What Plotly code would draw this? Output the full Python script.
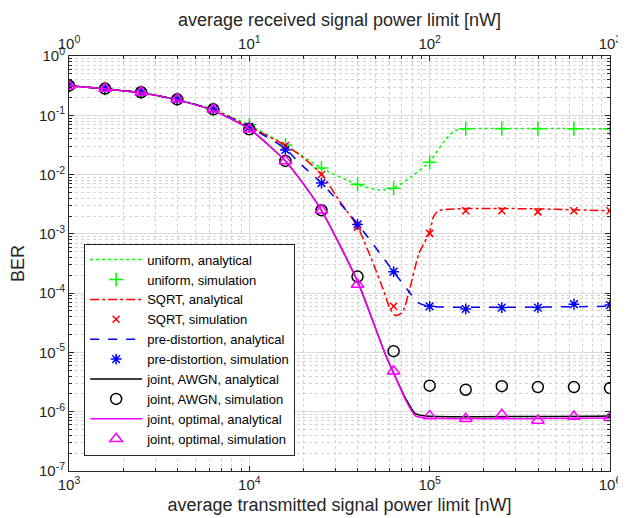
import plotly.graph_objects as go

# simulation points (transmitted power, nW)
x_sim = [1000, 1585, 2512, 3981, 6310, 10000, 15849, 25119, 39811, 63096,
         100000, 158489, 251189, 398107, 630957, 1000000]

uni_sim   = [0.316, 0.282, 0.245, 0.186, 0.126, 0.069, 0.0316, 0.0129, 0.0068, 0.0059,
             0.0162, 0.059, 0.059, 0.059, 0.059, 0.059]
sqrt_sim  = [0.316, 0.282, 0.245, 0.186, 0.126, 0.065, 0.031, 0.010, 0.0013, 6.0e-5,
             1.02e-3, 2.45e-3, 2.45e-3, 2.35e-3, 2.45e-3, 2.45e-3]
pre_sim   = [0.316, 0.282, 0.245, 0.186, 0.126, 0.063, 0.026, 0.0072, 0.00144, 2.3e-4,
             6.0e-5, 5.4e-5, 5.7e-5, 5.7e-5, 6.5e-5, 6.3e-5]
awgn_sim  = [0.316, 0.282, 0.245, 0.186, 0.126, 0.058, 0.017, 0.0025, 1.9e-4, 1.05e-5,
             2.75e-6, 2.35e-6, 2.7e-6, 2.6e-6, 2.6e-6, 2.5e-6]
opt_sim   = [0.316, 0.282, 0.245, 0.186, 0.126, 0.058, 0.017, 0.0025, 1.4e-4, 4.8e-6,
             8.5e-7, 7.6e-7, 8.9e-7, 7.1e-7, 8.3e-7, 7.9e-7]

# received power = transmitted / 1000 (top axis)
x_rx = [v / 1000 for v in x_sim]

# analytical curves
uni_x = [1000, 1585, 2512, 3981, 6310, 10000, 15849, 25119, 39811, 52481, 63096,
         79433, 100000, 123027, 138038, 158489, 1000000]
uni_y = [0.316, 0.282, 0.245, 0.186, 0.126, 0.0676, 0.0316, 0.0129, 0.00676, 0.0055, 0.0059,
         0.0093, 0.0166, 0.0398, 0.055, 0.0589, 0.0589]

sqrt_x = [1000, 1585, 2512, 3981, 6310, 10000, 15849, 18880, 25119, 31405, 39811, 48978,
          55719, 60256, 64565, 70795, 77625, 87096, 100000, 104713, 112202, 1000000]
sqrt_y = [0.316, 0.279, 0.240, 0.182, 0.123, 0.0646, 0.0309, 0.0219, 0.0102, 0.0037, 0.00132,
          3.0e-4, 1.07e-4, 5.5e-5, 4.2e-5, 4.8e-5, 1.2e-4, 4.6e-4, 1.07e-3, 1.9e-3, 2.45e-3, 2.45e-3]

pre_x = [1000, 1585, 2512, 3981, 6310, 10000, 15849, 18880, 25119, 39811, 63096, 79433,
         87096, 100000, 1000000]
pre_y = [0.316, 0.279, 0.240, 0.182, 0.123, 0.0631, 0.0275, 0.0158, 0.0072, 0.00148, 2.3e-4,
         9.3e-5, 6.8e-5, 6.0e-5, 6.0e-5]

joint_x = [1000, 1585, 2512, 3981, 6310, 10000, 15849, 18880, 25119, 39811, 56234, 63096,
           74131, 83176, 95499, 1000000]
awgn_y  = [0.316, 0.279, 0.240, 0.182, 0.120, 0.0589, 0.017, 0.0087, 0.0025, 1.58e-4, 1.0e-5,
           4.5e-6, 1.6e-6, 9.3e-7, 8.5e-7, 8.5e-7]
opt_y   = [0.316, 0.279, 0.240, 0.182, 0.120, 0.0589, 0.017, 0.0087, 0.0025, 1.58e-4, 1.0e-5,
           4.5e-6, 1.5e-6, 8.5e-7, 7.8e-7, 7.8e-7]

GREEN, RED, BLUE, BLACK, MAG = "#00ff00", "#ff0000", "#0000ff", "#000000", "#ff00ff"

fig = go.Figure()

def line(x, y, name, color, dash):
    fig.add_trace(go.Scatter(x=x, y=y, mode="lines", name=name,
                             line=dict(color=color, dash=dash, width=1.5,
                                       shape="spline", smoothing=0.6)))

def pts(x, y, name, color, symbol, size, xaxis="x"):
    fig.add_trace(go.Scatter(x=x, y=y, mode="markers", name=name, xaxis=xaxis,
                             marker=dict(color=color, symbol=symbol, size=size,
                                         line=dict(color=color, width=1.5))))

line(uni_x, uni_y, "uniform, analytical", GREEN, "dot")
pts(x_sim, uni_sim, "uniform, simulation", GREEN, "cross-thin-open", 10)
line(sqrt_x, sqrt_y, "SQRT, analytical", RED, "dashdot")
pts(x_sim, sqrt_sim, "SQRT, simulation", RED, "x-thin-open", 7)
line(pre_x, pre_y, "pre-distortion, analytical", BLUE, "dash")
pts(x_sim, pre_sim, "pre-distortion, simulation", BLUE, "asterisk-open", 9)
line(joint_x, awgn_y, "joint, AWGN, analytical", BLACK, "solid")
pts(x_sim, awgn_sim, "joint, AWGN, simulation", BLACK, "circle-open", 11)
line(joint_x, opt_y, "joint, optimal, analytical", MAG, "solid")
pts(x_rx, opt_sim, "joint, optimal, simulation", MAG, "triangle-up-open", 11, xaxis="x2")

def minor_vals(lo, hi):
    return [m * 10 ** e for e in range(lo, hi) for m in range(2, 10)]

grid_major = "#dcdcdc"
grid_minor = "#d4d4d4"
ink = "#262626"

# the page body adds an 8px offset, so the figure is 8px smaller than the window
fig.update_layout(
    width=618, height=510,
    margin=dict(l=61, r=16, t=48, b=47, autoexpand=False),
    plot_bgcolor="white", paper_bgcolor="white",
    font=dict(family="Liberation Sans, Arial", size=15, color=ink),
    xaxis=dict(
        type="log", range=[3, 6], automargin=False,
        tickvals=[1e3, 1e4, 1e5, 1e6],
        ticktext=["10<sup>3</sup>", "10<sup>4</sup>", "10<sup>5</sup>", "10<sup>6</sup>"],
        ticks="inside", ticklen=5, tickcolor=ink, ticklabeloverflow="allow",
        showline=True, linecolor=ink, linewidth=1,
        showgrid=True, gridcolor=grid_major, gridwidth=1,
        minor=dict(tickvals=minor_vals(3, 6), ticks="inside", ticklen=3,
                   tickcolor=ink, showgrid=True, gridcolor=grid_minor, griddash="dot"),
        title=dict(text="average transmitted signal power limit [nW]", standoff=6),
        zeroline=False,
    ),
    xaxis2=dict(
        type="log", range=[0, 3], overlaying="x", side="top", automargin=False,
        tickvals=[1, 10, 100, 1000],
        ticktext=["10<sup>0</sup>", "10<sup>1</sup>", "10<sup>2</sup>", "10<sup>3</sup>"],
        ticks="inside", ticklen=5, tickcolor=ink, ticklabeloverflow="allow",
        showline=True, linecolor=ink, linewidth=1,
        showgrid=False,
        minor=dict(tickvals=minor_vals(0, 3), ticks="inside", ticklen=3,
                   tickcolor=ink, showgrid=False),
        title=dict(text="average received signal power limit [nW]", standoff=1),
        zeroline=False,
    ),
    yaxis=dict(
        type="log", range=[-7, 0], automargin=False,
        tickvals=[10 ** -e for e in range(0, 8)],
        ticktext=["10<sup>%d</sup>" % -e for e in range(0, 8)],
        ticks="inside", ticklen=5, tickcolor=ink,
        showline=True, linecolor=ink, linewidth=1, mirror="ticks",
        showgrid=True, gridcolor=grid_major, gridwidth=1,
        minor=dict(tickvals=minor_vals(-7, 0), ticks="inside", ticklen=3,
                   tickcolor=ink, showgrid=True, gridcolor=grid_minor, griddash="dot"),
        title=dict(text="BER", standoff=12),
        zeroline=False,
    ),
    legend=dict(
        x=0.028, y=0.037, xanchor="left", yanchor="bottom",
        bgcolor="white", bordercolor=ink, borderwidth=1,
        font=dict(size=13, color="#000000"), itemwidth=52,
        tracegroupgap=0,
    ),
    showlegend=True,
)

fig.write_html("out.html")
